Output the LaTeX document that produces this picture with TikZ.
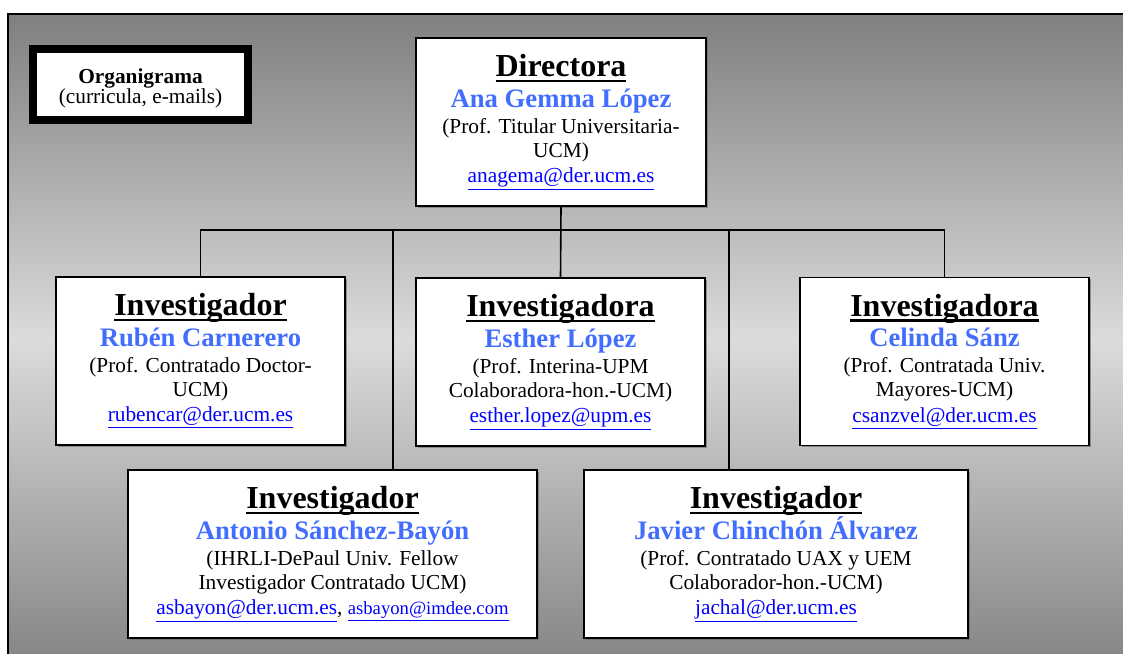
\documentclass[tikz,border=0pt]{standalone}
\usepackage{fontspec}
\setmainfont{Liberation Serif}
\usetikzlibrary{positioning, shadows}
\definecolor{azulnombre}{RGB}{66,110,255}
\definecolor{enlace}{RGB}{0,0,255}
\newcommand{\titulo}[1]{{\fontsize{24}{24}\selectfont\bfseries\setbox0\hbox{#1}\rlap{\rule[-4.2pt]{\wd0}{1.9pt}}\box0}}
\newcommand{\nombre}[1]{\smash{\fontsize{20}{20}\selectfont\bfseries\color{azulnombre}#1}}
\newcommand{\correo}[1]{{\color{enlace}\underline{#1}}}

\begin{document}
\begin{tikzpicture}[x=0.75pt, y=-0.75pt,
  caja/.style={draw, line width=1.2pt, fill=white, align=center, inner sep=0pt,
    minimum height=126pt, font=\fontsize{16}{18}\selectfont,
    drop shadow={shadow xshift=1.2pt, shadow yshift=-1.2pt, fill=black!60, opacity=0.6}},
  linea/.style={line width=1.2pt}]
\useasboundingbox (0,0) rectangle (1123,653);
\clip (0,0) rectangle (1123,653);
% fondo
\shade [top color=black!50, bottom color=black!48, middle color=black!14] (8,14) rectangle (1135,665);
\draw [line width=1.5pt] (8,14) rectangle (1135,665);
% titulo
\node [draw, line width=6pt, fill=white, minimum width=161.25pt, minimum height=53.25pt, inner sep=0pt,
  align=center, font=\fontsize{16}{17}\selectfont] (org) at (140.5,84.5)
  {\rule{0pt}{17pt}\textbf{Organigrama}\\[-2pt](curricula, e-mails)};
% cajas
\node [caja, minimum width=217.5pt] (dir) at (561,122)
  {\titulo{Directora}\\[5pt]\nombre{Ana Gemma López}\\[1.5pt](Prof. Titular Universitaria-\\UCM)\\[1pt]\correo{anagema@der.ucm.es}};
\node [caja, minimum width=216.75pt] (ruben) at (200.5,361)
  {\titulo{Investigador}\\[5pt]\nombre{Rubén Carnerero}\\[1.5pt](Prof. Contratado Doctor-\\UCM)\\[1pt]\correo{rubencar@der.ucm.es}};
\node [caja, minimum width=216.75pt] (esther) at (560.5,362)
  {\titulo{Investigadora}\\[5pt]\nombre{Esther López}\\[1.5pt](Prof. Interina-UPM\\Colaboradora-hon.-UCM)\\[1pt]\correo{esther.lopez@upm.es}};
\node [caja, minimum width=216.75pt] (celinda) at (944.5,361.5)
  {\titulo{Investigadora}\\[5pt]\nombre{Celinda Sánz}\\[1.5pt](Prof. Contratada Univ.\\Mayores-UCM)\\[1pt]\correo{csanzvel@der.ucm.es}};
\node [caja, minimum width=306.75pt] (antonio) at (332.5,554)
  {\titulo{Investigador}\\[5pt]\nombre{Antonio Sánchez-Bayón}\\[1.5pt](IHRLI-DePaul Univ. Fellow\\Investigador Contratado UCM)\\[1pt]\correo{asbayon@der.ucm.es}, {\fontsize{14}{14}\selectfont\correo{asbayon@imdee.com}}};
\node [caja, minimum width=288pt] (javier) at (776,554)
  {\titulo{Investigador}\\[5pt]\nombre{Javier Chinchón Álvarez}\\[1.5pt](Prof. Contratado UAX y UEM\\Colaborador-hon.-UCM)\\[1pt]\correo{jachal@der.ucm.es}};
% conectores
\coordinate (bus) at (561,230);
\coordinate (ba) at (393,230);
\coordinate (bj) at (729,230);
\draw [linea] (dir.south) -- (esther.north);
\draw [linea] (ruben.north) -- (ruben.north |- bus) -- (celinda.north |- bus) -- (celinda.north);
\draw [linea] (ba) -- (ba |- antonio.north);
\draw [linea] (bj) -- (bj |- javier.north);
\end{tikzpicture}
\end{document}
